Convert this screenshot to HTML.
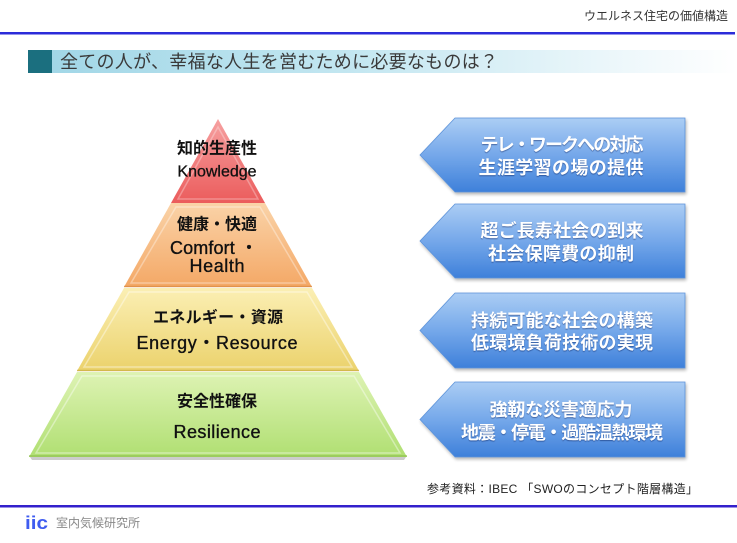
<!DOCTYPE html>
<html>
<head>
<meta charset="utf-8">
<style>
  html,body{margin:0;padding:0;background:#fff;}
  body{width:737px;height:543px;overflow:hidden;}
  svg{display:block;}
  .jp{font-family:"Liberation Sans","Noto Sans CJK JP",sans-serif;}
  .wt{fill:#fff;font-weight:bold;font-size:18px;text-shadow:0 1px 1px rgba(0,20,80,0.45);}
  .pj{fill:#111;font-weight:bold;font-size:16px;}
  .pe{fill:#111;font-size:18px;stroke:#111;stroke-width:0.35px;}
</style>
</head>
<body>
<svg width="737" height="543" viewBox="0 0 737 543" xmlns="http://www.w3.org/2000/svg">
  <defs>
    <linearGradient id="bar" x1="52" y1="0" x2="737" y2="0" gradientUnits="userSpaceOnUse">
      <stop offset="0" stop-color="#a2d7e7"/>
      <stop offset="0.45" stop-color="#c4e7f1"/>
      <stop offset="0.8" stop-color="#eaf6fa"/>
      <stop offset="1" stop-color="#ffffff"/>
    </linearGradient>
    <linearGradient id="gRed" x1="0" y1="0" x2="0" y2="1">
      <stop offset="0" stop-color="#f6a0a0"/>
      <stop offset="1" stop-color="#eb5c5c"/>
    </linearGradient>
    <linearGradient id="gOr" x1="0" y1="0" x2="0" y2="1">
      <stop offset="0" stop-color="#fad3a8"/>
      <stop offset="1" stop-color="#f4a866"/>
    </linearGradient>
    <linearGradient id="gYe" x1="0" y1="0" x2="0" y2="1">
      <stop offset="0" stop-color="#fbefb4"/>
      <stop offset="1" stop-color="#ebd26c"/>
    </linearGradient>
    <linearGradient id="gGr" x1="0" y1="0" x2="0" y2="1">
      <stop offset="0" stop-color="#def3b4"/>
      <stop offset="1" stop-color="#b0df72"/>
    </linearGradient>
    <linearGradient id="gAr" x1="0" y1="0" x2="0" y2="1">
      <stop offset="0" stop-color="#abcdf4"/>
      <stop offset="0.5" stop-color="#75a8ea"/>
      <stop offset="1" stop-color="#3e80da"/>
    </linearGradient>
    <filter id="sh" x="-10%" y="-10%" width="130%" height="140%">
      <feGaussianBlur in="SourceAlpha" stdDeviation="1.5"/>
      <feOffset dx="1" dy="2" result="o"/>
      <feComponentTransfer><feFuncA type="linear" slope="0.3"/></feComponentTransfer>
      <feMerge><feMergeNode/><feMergeNode in="SourceGraphic"/></feMerge>
    </filter>
  </defs>

  <!-- header -->
  <text class="jp" x="728" y="16" text-anchor="end" dominant-baseline="central" font-size="12" fill="#333">ウエルネス住宅の価値構造</text>
  <rect x="0" y="32" width="735" height="2.5" fill="#2b2bd9"/>

  <!-- title bar -->
  <rect x="52" y="50" width="685" height="23" fill="url(#bar)"/>
  <rect x="28" y="50" width="24" height="23" fill="#1b6f7f"/>
  <text class="jp" x="60" y="62" dominant-baseline="central" font-size="18" fill="#3a3a3a" textLength="438" lengthAdjust="spacing">全ての人が、幸福な人生を営むために必要なものは？</text>

  <!-- pyramid shadow -->
  <polygon points="30,457 406,457 404,460 32,460" fill="#999" opacity="0.5"/>

  <!-- pyramid layers -->
  <polygon points="218,119 265,203 171,203" fill="url(#gRed)"/>
  <polygon points="218,127 258,199 178,199" fill="none" stroke="#fff" stroke-opacity="0.3" stroke-width="1.5"/>
  <polygon points="171,203 265,203 312,287 124,287" fill="url(#gOr)"/>
  <polygon points="176,207 260,207 305,283 131,283" fill="none" stroke="#fff" stroke-opacity="0.35" stroke-width="1.5"/>
  <line x1="124" y1="286.5" x2="312" y2="286.5" stroke="#d98a40" stroke-width="1.5" opacity="0.7"/>
  <polygon points="124,288 312,288 359,371 77,371" fill="url(#gYe)"/>
  <polygon points="129,292 307,292 352,367 84,367" fill="none" stroke="#fff" stroke-opacity="0.4" stroke-width="1.5"/>
  <line x1="77" y1="370.5" x2="359" y2="370.5" stroke="#c9ad40" stroke-width="1.5" opacity="0.7"/>
  <polygon points="77,372 359,372 407,457 29,457" fill="url(#gGr)"/>
  <polygon points="82,376 354,376 400,453 36,453" fill="none" stroke="#fff" stroke-opacity="0.4" stroke-width="1.5"/>
  <line x1="29" y1="456" x2="407" y2="456" stroke="#8fbf50" stroke-width="1.5" opacity="0.8"/>

  <!-- pyramid text -->
  <text class="jp pj" x="217" y="149" text-anchor="middle" dominant-baseline="central">知的生産性</text>
  <text class="jp" x="217" y="172" text-anchor="middle" dominant-baseline="central" font-size="16" fill="#111" stroke="#111" stroke-width="0.3">Knowledge</text>

  <text class="jp pj" x="217" y="225" text-anchor="middle" dominant-baseline="central">健康・快適</text>
  <text class="jp pe" x="214" y="248" text-anchor="middle" dominant-baseline="central" textLength="88" lengthAdjust="spacing">Comfort ・</text>
  <text class="jp pe" x="217" y="266" text-anchor="middle" dominant-baseline="central" textLength="55" lengthAdjust="spacing">Health</text>

  <text class="jp pj" x="218" y="318" text-anchor="middle" dominant-baseline="central" textLength="130" lengthAdjust="spacing">エネルギー・資源</text>
  <text class="jp pe" x="217" y="343" text-anchor="middle" dominant-baseline="central" textLength="161" lengthAdjust="spacing">Energy・Resource</text>

  <text class="jp pj" x="217" y="402" text-anchor="middle" dominant-baseline="central">安全性確保</text>
  <text class="jp pe" x="217" y="432" text-anchor="middle" dominant-baseline="central" textLength="87" lengthAdjust="spacing">Resilience</text>

  <!-- arrows -->
  <g filter="url(#sh)">
    <polygon points="455,118 685,118 685,192 455,192 420,155" fill="url(#gAr)" stroke="#5d93da" stroke-width="0.8"/>
    <polygon points="455,204 685,204 685,278 455,278 420,241" fill="url(#gAr)" stroke="#5d93da" stroke-width="0.8"/>
    <polygon points="455,293 685,293 685,368 455,368 420,330.5" fill="url(#gAr)" stroke="#5d93da" stroke-width="0.8"/>
    <polygon points="455,382 685,382 685,457 455,457 420,419.5" fill="url(#gAr)" stroke="#5d93da" stroke-width="0.8"/>
  </g>

  <text class="jp wt" x="562" y="145" text-anchor="middle" dominant-baseline="central" textLength="163" lengthAdjust="spacing">テレ・ワークへの対応</text>
  <text class="jp wt" x="561" y="168" text-anchor="middle" dominant-baseline="central" textLength="165" lengthAdjust="spacing">生涯学習の場の提供</text>

  <text class="jp wt" x="562" y="231" text-anchor="middle" dominant-baseline="central" textLength="163" lengthAdjust="spacing">超ご長寿社会の到来</text>
  <text class="jp wt" x="561" y="254" text-anchor="middle" dominant-baseline="central" textLength="146" lengthAdjust="spacing">社会保障費の抑制</text>

  <text class="jp wt" x="562" y="321" text-anchor="middle" dominant-baseline="central" textLength="182" lengthAdjust="spacing">持続可能な社会の構築</text>
  <text class="jp wt" x="562" y="343" text-anchor="middle" dominant-baseline="central" textLength="182" lengthAdjust="spacing">低環境負荷技術の実現</text>

  <text class="jp wt" x="561" y="410" text-anchor="middle" dominant-baseline="central" textLength="143" lengthAdjust="spacing">強靭な災害適応力</text>
  <text class="jp wt" x="562" y="433" text-anchor="middle" dominant-baseline="central" textLength="202" lengthAdjust="spacing">地震・停電・過酷温熱環境</text>

  <!-- reference -->
  <text class="jp" x="427" y="489" dominant-baseline="central" font-size="12" fill="#222" textLength="271" lengthAdjust="spacing">参考資料：IBEC 「SWOのコンセプト階層構造」</text>

  <!-- footer -->
  <rect x="0" y="505" width="737" height="2.5" fill="#3320cc"/>
  <text x="25" y="523" dominant-baseline="central" font-family="Liberation Sans, sans-serif" font-weight="bold" font-size="18" fill="#3f5cf0" textLength="23" lengthAdjust="spacingAndGlyphs">iic</text>
  <text class="jp" x="56" y="523" dominant-baseline="central" font-size="12" fill="#888" textLength="84" lengthAdjust="spacing">室内気候研究所</text>
</svg>
</body>
</html>
